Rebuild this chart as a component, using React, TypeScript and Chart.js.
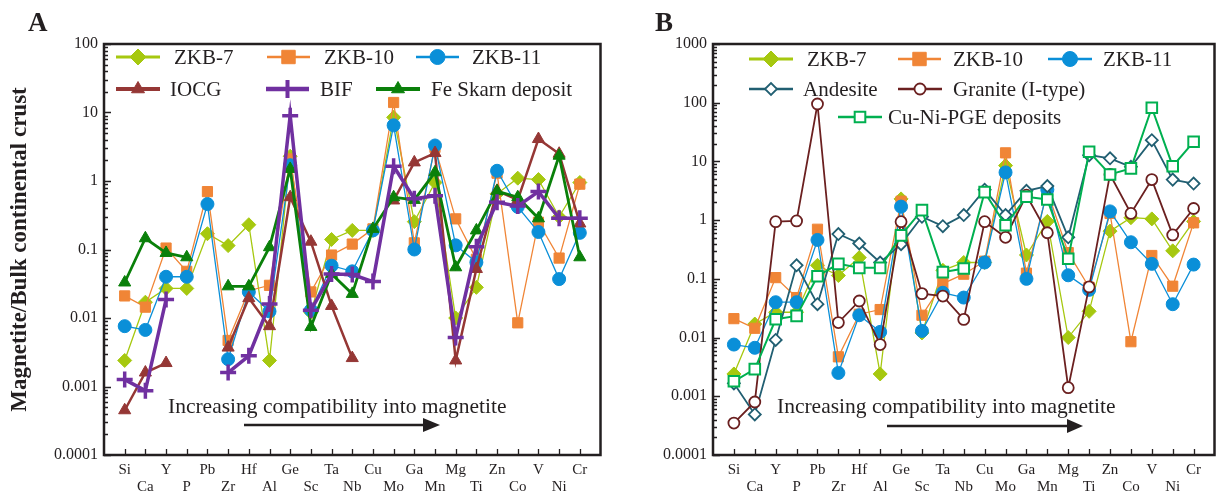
import React, { useEffect, useRef } from 'react';
import { Chart, registerables } from 'chart.js';
Chart.register(...registerables);

const FONT = '"Liberation Serif", "Times New Roman", serif';
const INK = '#231f20';

// ---------- DATA ----------
const elements = ['Si', 'Ca', 'Y', 'P', 'Pb', 'Zr', 'Hf', 'Al', 'Ge', 'Sc', 'Ta', 'Nb', 'Cu', 'Mo', 'Ga', 'Mn', 'Mg', 'Ti', 'Zn', 'Co', 'V', 'Ni', 'Cr'];

const decadesA = [0.0001, 0.001, 0.01, 0.1, 1, 10, 100];
const decadesB = [0.0001, 0.001, 0.01, 0.1, 1, 10, 100, 1000];

const zkb7 = [0.0024, 0.017, 0.027, 0.027, 0.17, 0.114, 0.23, 0.0024, 2.3, 0.012, 0.14, 0.19, 0.19, 8.5, 0.255, 0.95, 0.01, 0.028, 0.65, 1.1, 1.05, 0.3, 0.95];
const zkb10 = [0.021, 0.0144, 0.105, 0.048, 0.7, 0.0047, 0.025, 0.03, 2.1, 0.024, 0.083, 0.12, 0.2, 14, 0.125, 3.1, 0.28, 0.072, 1.3, 0.0085, 0.25, 0.075, 0.9];
const zkb11 = [0.0076, 0.0067, 0.04, 0.04, 0.46, 0.0025, 0.024, 0.0125, 1.7, 0.013, 0.058, 0.048, 0.19, 6.5, 0.1, 3.3, 0.115, 0.065, 1.41, 0.42, 0.18, 0.037, 0.175];
const iocg = [0.00045, 0.0016, 0.0022, null, null, 0.0037, 0.0195, 0.0076, 0.58, 0.13, 0.015, 0.0026, null, 0.52, 1.87, 2.56, 0.0024, 0.052, 0.72, 0.53, 4.1, 2.5, 0.24];
const bif = [0.00126, 0.00087, 0.0186, null, null, 0.0016, 0.0028, 0.016, 9, 0.013, 0.044, 0.043, 0.034, 1.64, 0.55, 0.61, 0.0052, 0.11, 0.49, 0.43, 0.7, 0.285, 0.285];
const feSkarn = [0.033, 0.146, 0.089, 0.077, null, 0.029, 0.029, 0.108, 1.5, 0.0074, 0.044, 0.0225, 0.2, 0.58, 0.53, 1.34, 0.055, 0.19, 0.71, 0.58, 0.285, 2.34, 0.077];

const andesite = [0.00166, 0.00049, 0.0091, 0.17, 0.037, 0.58, 0.4, 0.19, 0.39, 1.14, 0.79, 1.22, 3.3, 1.22, 3.16, 3.8, 0.51, 12.8, 11.3, 8.1, 23, 4.9, 4.2];
const graniteI = [0.00035, 0.0008, 0.94, 0.97, 95, 0.018, 0.042, 0.0076, 0.94, 0.056, 0.051, 0.0204, 0.94, 0.51, 2.66, 0.61, 0.0014, 0.073, 6.0, 1.3, 4.9, 0.56, 1.58];
const cuNiPge = [0.0018, 0.0029, 0.0205, 0.0234, 0.111, 0.18, 0.154, 0.154, 0.55, 1.48, 0.13, 0.15, 3.0, 0.82, 2.5, 2.25, 0.22, 14.6, 6.0, 7.6, 82, 8.3, 21.6];

const annotationText = 'Increasing compatibility into magnetite';
const yTitle = 'Magnetite/Bulk continental crust';

// ---------- STYLES ----------
type Series = {
  label: string; values: (number | null)[]; color: string; style: string;
  radius: number; lineWidth: number; borderWidth: number; open?: boolean;
  legRadius: number; legLine: number;
};

const sZkb7 = { label: 'ZKB-7', color: '#a6c80f', style: 'rectRot', radius: 7, lineWidth: 1.3, borderWidth: 1, legRadius: 8, legLine: 3 };
const sZkb10 = { label: 'ZKB-10', color: '#f08536', style: 'rect', radius: 7.2, lineWidth: 1.3, borderWidth: 1, legRadius: 9.5, legLine: 2.6 };
const sZkb11 = { label: 'ZKB-11', color: '#0a8fd8', style: 'circle', radius: 6.5, lineWidth: 1.3, borderWidth: 1, legRadius: 7.5, legLine: 2.6 };

const seriesA: Series[] = [
  { label: 'BIF', values: bif, color: '#7030a0', style: 'cross', radius: 8, lineWidth: 3.5, borderWidth: 3.5, legRadius: 9, legLine: 4.5 },
  { label: 'Fe Skarn deposit', values: feSkarn, color: '#0a800a', style: 'triangle', radius: 7, lineWidth: 2.8, borderWidth: 1, legRadius: 7.5, legLine: 4 },
  { label: 'IOCG', values: iocg, color: '#953735', style: 'triangle', radius: 7, lineWidth: 2.5, borderWidth: 1, legRadius: 7.5, legLine: 4 },
  { ...sZkb11, values: zkb11 },
  { ...sZkb10, values: zkb10 },
  { ...sZkb7, values: zkb7 },
];

const seriesB: Series[] = [
  { label: 'Cu-Ni-PGE deposits', values: cuNiPge, color: '#00b050', style: 'rect', radius: 7.5, lineWidth: 2, borderWidth: 2, open: true, legRadius: 7.5, legLine: 2.6 },
  { label: 'Granite (I-type)', values: graniteI, color: '#6b2020', style: 'circle', radius: 5.5, lineWidth: 1.8, borderWidth: 1.8, open: true, legRadius: 5.5, legLine: 2.6 },
  { label: 'Andesite', values: andesite, color: '#215f72', style: 'rectRot', radius: 6, lineWidth: 1.8, borderWidth: 1.8, open: true, legRadius: 6, legLine: 2.6 },
  { ...sZkb11, values: zkb11 },
  { ...sZkb10, values: zkb10 },
  { ...sZkb7, values: zkb7 },
];

type LegendItem = { label: string; x1: number; x2: number; y: number; tx: number };

const legendA: LegendItem[] = [
  { label: 'ZKB-7', x1: 116, x2: 160, y: 57, tx: 174 },
  { label: 'ZKB-10', x1: 267, x2: 310, y: 57, tx: 324 },
  { label: 'ZKB-11', x1: 416, x2: 459, y: 57, tx: 472 },
  { label: 'IOCG', x1: 116, x2: 160, y: 89, tx: 170 },
  { label: 'BIF', x1: 266, x2: 309, y: 89, tx: 320 },
  { label: 'Fe Skarn deposit', x1: 376, x2: 420, y: 89, tx: 431 },
];
const legendB: LegendItem[] = [
  { label: 'ZKB-7', x1: 137, x2: 181, y: 59, tx: 195 },
  { label: 'ZKB-10', x1: 286, x2: 329, y: 59, tx: 341 },
  { label: 'ZKB-11', x1: 436, x2: 480, y: 59, tx: 491 },
  { label: 'Andesite', x1: 137, x2: 181, y: 89, tx: 191 },
  { label: 'Granite (I-type)', x1: 286, x2: 330, y: 89, tx: 341 },
  { label: 'Cu-Ni-PGE deposits', x1: 226, x2: 270, y: 117, tx: 276 },
];

type PanelCfg = {
  letter: string; letterX: number; series: Series[]; legend: LegendItem[];
  yMax: number; decades: number[]; yWidth: number; padRight: number; showTitle: boolean;
  textX: number; textY: number; arrowX1: number; arrowBase: number; arrowTip: number; arrowY: number;
};

const panelA: PanelCfg = {
  letter: 'A', letterX: 28, series: seriesA, legend: legendA, yMax: 100, decades: decadesA,
  yWidth: 104, padRight: 11, showTitle: true,
  textX: 168, textY: 407, arrowX1: 244, arrowBase: 423, arrowTip: 440, arrowY: 425,
};
const panelB: PanelCfg = {
  letter: 'B', letterX: 43, series: seriesB, legend: legendB, yMax: 1000, decades: decadesB,
  yWidth: 101, padRight: 5, showTitle: false,
  textX: 165, textY: 407, arrowX1: 275, arrowBase: 455, arrowTip: 471, arrowY: 426,
};

function drawMarker(ctx: CanvasRenderingContext2D, style: string, x: number, y: number, r: number, fill: string, stroke: string, bw: number) {
  ctx.save();
  ctx.beginPath();
  if (style === 'circle') {
    ctx.arc(x, y, r, 0, Math.PI * 2);
  } else if (style === 'rect') {
    const s = r * Math.SQRT1_2;
    ctx.rect(x - s, y - s, 2 * s, 2 * s);
  } else if (style === 'rectRot') {
    ctx.moveTo(x - r, y); ctx.lineTo(x, y - r); ctx.lineTo(x + r, y); ctx.lineTo(x, y + r); ctx.closePath();
  } else if (style === 'triangle') {
    for (let k = 0; k < 3; k++) {
      const a = (k * 2 * Math.PI) / 3;
      const px = x + Math.sin(a) * r, py = y - Math.cos(a) * r;
      if (k === 0) ctx.moveTo(px, py); else ctx.lineTo(px, py);
    }
    ctx.closePath();
  } else if (style === 'cross') {
    ctx.moveTo(x, y - r); ctx.lineTo(x, y + r); ctx.moveTo(x - r, y); ctx.lineTo(x + r, y);
  }
  if (style !== 'cross') { ctx.fillStyle = fill; ctx.fill(); }
  ctx.lineWidth = bw; ctx.strokeStyle = stroke; ctx.stroke();
  ctx.restore();
}

function decorPlugin(cfg: PanelCfg) {
  return {
    id: 'decor' + cfg.letter,
    afterDraw(chart: any) {
      const { ctx, chartArea: a, scales } = chart;
      const xs = scales.x, ys = scales.y;
      ctx.save();
      // frame
      ctx.strokeStyle = INK; ctx.lineWidth = 2.5;
      ctx.strokeRect(a.left, a.top, a.right - a.left, a.bottom - a.top);
      // inner ticks x
      ctx.lineWidth = 1.3;
      ctx.beginPath();
      elements.forEach((_, i) => {
        const px = Math.round(xs.getPixelForValue(i + 1)) + 0.5;
        ctx.moveTo(px, a.bottom); ctx.lineTo(px, a.bottom - 6);
      });
      // inner ticks y
      cfg.decades.forEach((d) => {
        for (let m = 1; m <= 9; m++) {
          const v = d * m;
          if (v > cfg.yMax * 1.0001) break;
          const py = Math.round(ys.getPixelForValue(v)) + 0.5;
          const len = m === 1 ? 7 : 4;
          ctx.moveTo(a.left, py); ctx.lineTo(a.left + len, py);
        }
      });
      ctx.stroke();
      // annotation
      ctx.fillStyle = INK;
      ctx.font = '21.5px ' + FONT;
      ctx.textBaseline = 'middle';
      ctx.textAlign = 'left';
      ctx.fillText(annotationText, cfg.textX, cfg.textY);
      ctx.lineWidth = 2.4;
      ctx.beginPath();
      ctx.moveTo(cfg.arrowX1, cfg.arrowY); ctx.lineTo(cfg.arrowBase + 2, cfg.arrowY);
      ctx.stroke();
      ctx.beginPath();
      ctx.moveTo(cfg.arrowBase, cfg.arrowY - 7);
      ctx.lineTo(cfg.arrowTip, cfg.arrowY);
      ctx.lineTo(cfg.arrowBase, cfg.arrowY + 7);
      ctx.closePath();
      ctx.fill();
      // legend
      cfg.legend.forEach((it) => {
        const s = cfg.series.find((q) => q.label === it.label)!;
        ctx.strokeStyle = s.color; ctx.lineWidth = s.legLine;
        ctx.beginPath(); ctx.moveTo(it.x1, it.y); ctx.lineTo(it.x2, it.y); ctx.stroke();
        drawMarker(ctx, s.style, (it.x1 + it.x2) / 2, it.y, s.legRadius, s.open ? '#ffffff' : s.color, s.color, s.style === 'cross' ? 4 : s.borderWidth);
        ctx.fillStyle = INK;
        ctx.font = '21px ' + FONT;
        ctx.textBaseline = 'middle';
        ctx.fillText(it.label, it.tx, it.y + 1);
      });
      // panel letter
      ctx.font = 'bold 27px ' + FONT;
      ctx.textBaseline = 'alphabetic';
      ctx.fillStyle = INK;
      ctx.fillText(cfg.letter, cfg.letterX, 31);
      ctx.restore();
    },
  };
}

function Panel({ cfg }: { cfg: PanelCfg }) {
  const ref = useRef<HTMLCanvasElement | null>(null);
  useEffect(() => {
    const chart = new Chart(ref.current as HTMLCanvasElement, {
      type: 'line',
      data: {
        datasets: cfg.series.map((s) => ({
          label: s.label,
          data: s.values.map((v, i) => ({ x: i + 1, y: v })),
          borderColor: s.color,
          backgroundColor: s.open ? '#ffffff' : s.color,
          borderWidth: s.lineWidth,
          pointStyle: s.style,
          pointRadius: s.radius,
          pointHoverRadius: s.radius,
          pointBorderWidth: s.borderWidth,
          pointBackgroundColor: s.open ? '#ffffff' : s.color,
          pointBorderColor: s.color,
          tension: 0,
          spanGaps: false,
          fill: false,
        })) as any,
      },
      options: {
        responsive: false,
        animation: false,
        devicePixelRatio: 1,
        events: [],
        layout: { padding: { top: 44, right: cfg.padRight, bottom: 0, left: 0 } },
        plugins: { legend: { display: false }, tooltip: { enabled: false }, title: { display: false } },
        scales: {
          x: {
            type: 'linear', min: 0, max: 24,
            grid: { display: false, drawTicks: false },
            border: { display: false },
            afterBuildTicks: (s: any) => { s.ticks = elements.map((_, i) => ({ value: i + 1 })); },
            afterFit: (s: any) => { s.height = 39; },
            ticks: {
              autoSkip: false, maxRotation: 0, minRotation: 0, padding: 6, color: INK,
              font: { family: FONT, size: 15, lineHeight: 1.15 },
              callback: (v: any) => {
                const i = Math.round(Number(v)) - 1;
                const name = elements[i];
                if (!name) return '';
                return i % 2 === 0 ? [name, ''] : ['', name];
              },
            },
          },
          y: {
            type: 'logarithmic', min: 0.0001, max: cfg.yMax,
            grid: { display: false, drawTicks: false },
            border: { display: false },
            afterBuildTicks: (s: any) => { s.ticks = cfg.decades.map((v) => ({ value: v })); },
            afterFit: (s: any) => { s.width = cfg.yWidth; },
            ticks: {
              autoSkip: false, padding: 6, color: INK,
              font: { family: FONT, size: 16 },
              callback: (v: any) => String(v),
            },
            title: {
              display: cfg.showTitle, text: yTitle, color: INK,
              font: { family: FONT, size: 23, weight: 'bold' },
              padding: { top: 6, bottom: 0 },
            },
          },
        },
      } as any,
      plugins: [decorPlugin(cfg)],
    });
    return () => chart.destroy();
  }, [cfg]);
  return <canvas ref={ref} width={612} height={494} style={{ display: 'block', width: 612, height: 494 }} />;
}

export default function App() {
  return (
    <div style={{ position: 'absolute', left: 0, top: 0, width: 1224, height: 494, display: 'flex', background: '#ffffff' }}>
      <Panel cfg={panelA} />
      <Panel cfg={panelB} />
    </div>
  );
}
